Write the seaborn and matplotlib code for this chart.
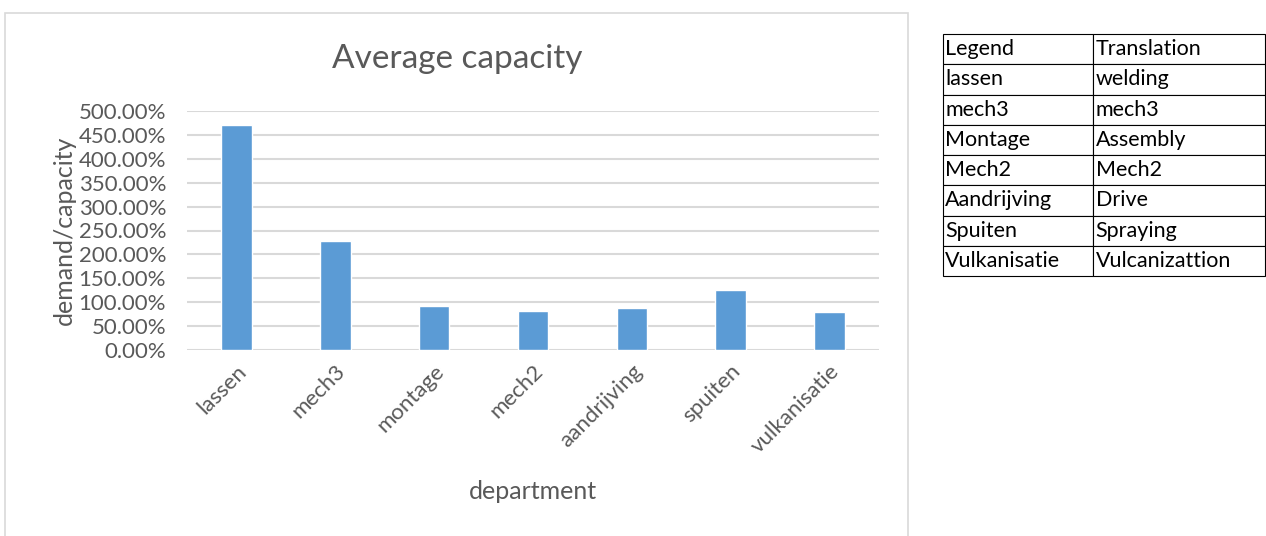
import numpy as np
import pandas as pd
import matplotlib
matplotlib.use('Agg')
import matplotlib.pyplot as plt
import seaborn as sns
from matplotlib.ticker import PercentFormatter
from matplotlib.patches import Rectangle

departments = ['lassen', 'mech3', 'montage', 'mech2', 'aandrijving', 'spuiten', 'vulkanisatie']
ratio = [4.70, 2.27, 0.93, 0.81, 0.88, 1.25, 0.80]

legend_nl = ['lassen', 'mech3', 'Montage', 'Mech2', 'Aandrijving', 'Spuiten', 'Vulkanisatie']
legend_en = ['welding', 'mech3', 'Assembly', 'Mech2', 'Drive', 'Spraying', 'Vulcanizattion']

df = pd.DataFrame({'department': departments, 'ratio': ratio})

sns.set_style('white')
plt.rcParams['font.family'] = ['Lato', 'DejaVu Sans']
grey = '#595959'

fig = plt.figure(figsize=(12.66, 5.36), dpi=100)

# chart frame like the excel chart area
fig.patches.append(Rectangle((5/1266, -0.05), 903/1266, 1 - 13/536 + 0.05,
                             transform=fig.transFigure, fill=False,
                             edgecolor='#D9D9D9', lw=1.2))

ax = fig.add_axes([187/1266, 1 - 350/536, 692/1266, 239/536])
sns.barplot(data=df, x='department', y='ratio', color='#5B9BD5', width=0.31,
            saturation=1, ax=ax)
ax.set_ylim(0, 5)
ax.set_yticks(np.arange(0, 5.01, 0.5))
ax.yaxis.set_major_formatter(PercentFormatter(xmax=1, decimals=2))
ax.grid(axis='y', color='#D9D9D9', lw=1.5)
ax.set_axisbelow(True)
sns.despine(ax=ax, left=True, bottom=True)
ax.tick_params(axis='both', length=0, labelsize=16, colors=grey)
ax.tick_params(axis='x', pad=8)
ax.tick_params(axis='y', pad=15)
plt.setp(ax.get_xticklabels(), rotation=45, ha='right', rotation_mode='anchor')
ax.set_xlabel('department', fontsize=18, color=grey)
ax.xaxis.set_label_coords(0.5, -0.545)
ax.set_ylabel('demand/capacity', fontsize=18, color=grey, labelpad=2)
fig.text(457/1266, 1 - 59/536, 'Average capacity', fontsize=24, color=grey,
         ha='center', va='center')

# translation table
tax = fig.add_axes([943/1266, 1 - 276/536, 322/1266, 242/536])
tax.axis('off')
rows = [['Legend', 'Translation']] + [[a, b] for a, b in zip(legend_nl, legend_en)]
tbl = tax.table(cellText=rows, colWidths=[150/322, 172/322], cellLoc='left',
                bbox=[0, 0, 1, 1])
tbl.auto_set_font_size(False)
for (r, c), cell in tbl.get_celld().items():
    cell.set_edgecolor('black')
    cell.set_linewidth(0.8)
    cell.set_text_props(fontsize=15.5, color='black')
    cell.PAD = 0.015

fig.savefig('out.png', dpi=100)
